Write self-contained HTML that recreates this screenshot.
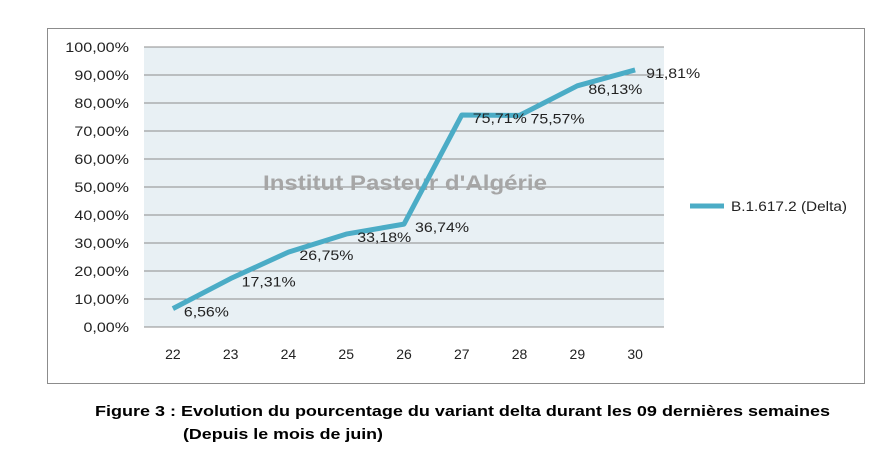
<!DOCTYPE html>
<html><head><meta charset="utf-8"><style>
body{margin:0;background:#fff;width:888px;height:466px;overflow:hidden;font-family:"Liberation Sans",sans-serif}
svg text{font-family:"Liberation Sans",sans-serif}
</style></head><body>
<svg width="888" height="466">
<rect x="47.5" y="28.5" width="817" height="355" fill="#fff" stroke="#8c8c8c"/>
<rect x="144" y="47" width="520" height="280" fill="#e8f0f4"/>
<g id="grid"></g><g id="yt"></g><g id="xt"></g>
<text x="263" y="190" font-size="21" font-weight="bold" fill="#a6a6a6" textLength="284" lengthAdjust="spacingAndGlyphs">Institut Pasteur d'Algérie</text>
<polyline id="ln" fill="none" stroke="#4bacc6" stroke-width="5" stroke-linejoin="round"/>
<g id="lb"></g>
<line x1="690" y1="206" x2="724" y2="206" stroke="#4bacc6" stroke-width="5"/>
<text x="731" y="211" font-size="14" fill="#222" textLength="116" lengthAdjust="spacingAndGlyphs">B.1.617.2 (Delta)</text>
<text x="95" y="416" font-size="15" font-weight="bold" fill="#000" textLength="735" lengthAdjust="spacingAndGlyphs">Figure 3 : Evolution du pourcentage du variant delta durant les 09 dernières  semaines</text>
<text x="183" y="439" font-size="15" font-weight="bold" fill="#000" textLength="200" lengthAdjust="spacingAndGlyphs">(Depuis le mois de juin)</text>
</svg>
<script>
const categories=["22","23","24","25","26","27","28","29","30"];
const values=[6.56,17.31,26.75,33.18,36.74,75.71,75.57,86.13,91.81];
const labels=["6,56%","17,31%","26,75%","33,18%","36,74%","75,71%","75,57%","86,13%","91,81%"];
const yTicks=[0,10,20,30,40,50,60,70,80,90,100];
const NS="http://www.w3.org/2000/svg";
const x=i=>144+520/categories.length*(i+0.5);
const y=v=>327-v*2.8;
function mk(t,a,p){const e=document.createElementNS(NS,t);for(const k in a)e.setAttribute(k,a[k]);p.appendChild(e);return e;}
const g=document.getElementById('grid'),yt=document.getElementById('yt'),xt=document.getElementById('xt'),lb=document.getElementById('lb');
yTicks.forEach(v=>{
 const l=mk('line',{x1:144,x2:664,y1:y(v),y2:y(v),stroke:'#8c8c8c','stroke-width':1},g);
 
 
 const s=v.toFixed(2).replace('.',',')+'%';
 const t=mk('text',{x:129,y:y(v)+5,'font-size':14,fill:'#222','text-anchor':'end',textLength:s.length*9.1,lengthAdjust:'spacingAndGlyphs'},yt);
 t.textContent=s;
 
 
});
categories.forEach((c,i)=>{
 const t=mk('text',{x:x(i),y:359,'font-size':14,fill:'#222','text-anchor':'middle'},xt);
 t.textContent=c;
 
 
 const d=mk('text',{x:x(i)+11,y:y(values[i])+8,'font-size':14,fill:'#222',textLength:labels[i].length*9,lengthAdjust:'spacingAndGlyphs'},lb);
 d.textContent=labels[i];
 
 
});
document.getElementById('ln').setAttribute('points',values.map((v,i)=>x(i)+','+y(v)).join(' '));
</script>
</body></html>
